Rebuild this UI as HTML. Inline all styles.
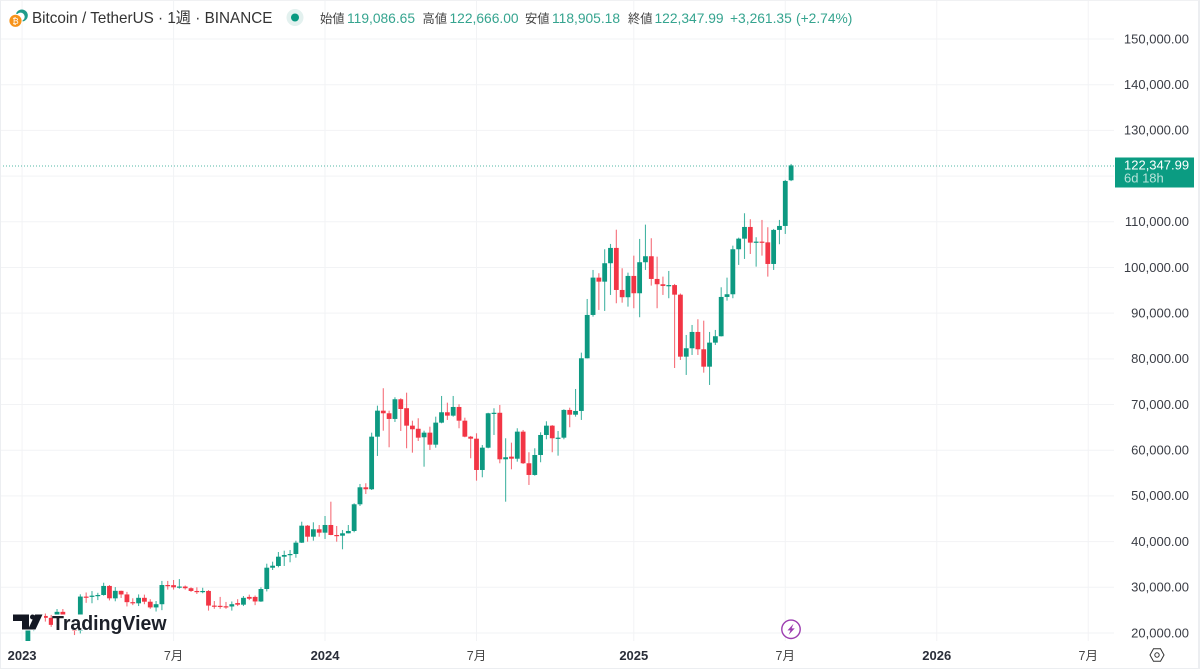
<!DOCTYPE html>
<html lang="ja">
<head>
<meta charset="utf-8">
<title>Bitcoin / TetherUS weekly chart</title>
<style>
  html, body { margin: 0; padding: 0; background: #fff; }
  #frame { position: relative; width: 1200px; height: 669px; overflow: hidden; background: #fff;
    font-family: "Liberation Sans", "Noto Sans CJK JP", sans-serif; }
  #chart { position: absolute; left: 0; top: 0; }
  #edge { position: absolute; left: 0; top: 0; width: 1197px; height: 667px; border-left: 1px solid #eceef1; border-top: 1px solid #f0f1f3; border-right: 2px solid #eceef1; border-bottom: 1px solid #eceef1; box-sizing: content-box; pointer-events: none; }
  .h { position: absolute; top: 10.5px; line-height: 16px; white-space: nowrap; }
  .title { left: 32px; font-size: 15.25px; color: #333; }
  .lab { font-size: 12.3px; color: #444; }
  .val { font-size: 13.8px; color: #35a48f; }
</style>
</head>
<body>
<div id="frame">
  <svg id="chart" width="1200" height="669" viewBox="0 0 1200 669" xmlns="http://www.w3.org/2000/svg">
    <defs>
      <clipPath id="plot-clip"><rect x="0" y="0" width="1114" height="641"></rect></clipPath>
      <filter id="soften" x="-5%" y="-5%" width="110%" height="110%"><feGaussianBlur stdDeviation="0.3"></feGaussianBlur></filter>
    </defs>
    <g id="grid"></g>
    <line x1="0" x2="1115" y1="166" y2="166" stroke="#089981" stroke-width="1" stroke-dasharray="1 2" opacity="0.7"></line>
    <g clip-path="url(#plot-clip)">
      <g id="candles" filter="url(#soften)"></g>
    </g>
    <g>
      <rect x="12" y="612" width="32" height="18.5" fill="#fff"></rect>
      <rect x="53" y="614.5" width="115" height="16" fill="#fff"></rect>
      <path d="M13 614.5h16v15h-7v-8.5H13z M35 614.5h7.5l-7 15h-7.5z" fill="#131722"></path>
      <circle cx="32.5" cy="617" r="2.5" fill="#131722"></circle>
      <text x="52" y="630" font-size="20.6" font-weight="700" fill="#1c2029" textLength="114.5" lengthAdjust="spacingAndGlyphs" font-family="Liberation Sans, sans-serif">TradingView</text>
    </g>
    <g id="y-axis"></g>
    <g id="x-axis"></g>

    <g>
      <rect x="1115" y="157.5" width="79" height="30" fill="#0b9c82"></rect>
      <text x="1124" y="169.5" font-size="13" fill="#fff" font-family="Liberation Sans, sans-serif">122,347.99</text>
      <text x="1124" y="182.5" font-size="13" fill="#b6e3da" font-family="Liberation Sans, sans-serif">6d 18h</text>
    </g>

    <g>
      <circle cx="21.8" cy="15.5" r="6" fill="#1f9c8b"></circle>
      <circle cx="20.5" cy="16.8" r="4.2" fill="#fff"></circle>
      <circle cx="15.5" cy="20.8" r="6.6" fill="#f7931a" stroke="#fff" stroke-width="1"></circle>
      <text x="15.5" y="24" font-size="8.5" fill="#fff" text-anchor="middle" font-family="DejaVu Sans, sans-serif">₿</text>
    </g>
    <circle cx="295" cy="17.5" r="8.5" fill="#e3f1ef"></circle>
    <circle cx="295" cy="17.5" r="4" fill="#089981"></circle>

    <g>
      <circle cx="791" cy="629.3" r="9.2" fill="#fff" stroke="#9c3db0" stroke-width="1.4"></circle>
      <path d="M793.5 623.8l-6 6.6h3l-1.8 4.4 6-6.4h-3z" fill="#9c3db0"></path>
    </g>

    <g>
      <path d="M1150 655l3.5-6.2h7l3.5 6.2-3.5 6.2h-7z" fill="none" stroke="#333" stroke-width="1"></path>
      <circle cx="1157" cy="655" r="2.2" fill="none" stroke="#333" stroke-width="1"></circle>
    </g>
  </svg>

  <span class="h title">Bitcoin / TetherUS · 1週 · BINANCE</span>
  <span class="h lab" style="left:320px">始値</span>
  <span class="h val" style="left:347px">119,086.65</span>
  <span class="h lab" style="left:422.5px">高値</span>
  <span class="h val" style="left:449.5px">122,666.00</span>
  <span class="h lab" style="left:525px">安値</span>
  <span class="h val" style="left:552px">118,905.18</span>
  <span class="h lab" style="left:628px">終値</span>
  <span class="h val" style="left:654.5px">122,347.99</span>
  <span class="h val" style="left:730px">+3,261.35</span>
  <span class="h val" style="left:796px">(+2.74%)</span>
  <div id="edge"></div>
</div>

<script>
// Weekly OHLC, in thousands of USDT. Index 0 is the week of 2023-01-09.
const opens = [17.13,20.87,22.71,23.73,23.32,21.78,24.63,23.17,22.43,20.47,27.97,27.96,28.17,28.32,30.30,27.59,29.23,28.44,26.75,26.50,27.70,26.85,25.60,26.30,30.50,30.47,30.00,30.17,29.80,29.20,29.04,29.20,26.00,25.95,25.85,25.80,26.55,26.20,27.90,27.90,26.90,29.63,34.29,34.67,36.70,37.07,37.29,39.77,43.49,41.08,42.70,41.96,43.64,41.45,41.30,41.82,42.33,48.17,51.89,51.46,62.97,68.66,68.09,66.85,71.16,69.20,65.38,64.70,62.84,63.85,61.22,66.04,68.31,67.57,69.47,66.47,62.97,62.53,55.68,60.56,68.09,68.20,58.02,58.60,58.15,64.07,57.15,54.59,58.96,63.34,65.38,62.62,62.75,68.82,67.78,68.60,80.13,89.61,97.78,96.90,100.93,104.28,95.08,93.49,98.15,94.36,101.15,102.46,97.49,96.33,95.96,96.15,94.05,80.48,82.32,85.89,82.10,78.29,83.55,84.95,93.55,94.14,103.99,106.31,108.87,105.44,105.66,105.50,100.77,108.22,109.09,119.086];
const highs = [21.26,23.37,23.82,24.26,23.96,25.25,25.25,23.88,22.60,28.47,28.87,29.18,28.80,31.00,30.50,30.04,29.27,29.00,27.60,28.45,28.40,27.40,27.00,31.40,31.40,31.60,31.80,30.40,30.00,30.00,29.90,29.40,27.00,27.90,26.80,26.90,27.40,28.10,28.40,28.20,30.00,35.17,35.61,37.73,38.02,38.17,40.20,44.36,43.64,44.23,43.64,45.61,48.74,43.42,42.55,43.64,48.39,52.62,52.77,63.85,69.76,73.57,68.66,71.60,71.38,72.60,66.47,67.00,64.28,65.16,67.35,71.88,70.41,71.88,70.06,67.13,63.13,63.71,61.15,68.20,69.19,69.91,62.62,61.66,64.81,64.44,59.56,60.43,63.93,66.34,65.50,64.22,68.97,69.32,73.41,81.36,93.11,99.46,98.74,103.99,105.15,108.27,99.83,98.87,102.59,106.25,109.38,106.40,102.37,98.00,99.24,96.40,94.30,85.23,87.42,88.67,88.36,85.89,86.33,95.67,97.78,104.78,106.53,111.87,110.56,106.62,110.41,108.81,108.44,110.41,119.16,122.666];
const lows = [17.08,20.41,22.29,22.50,21.35,21.35,22.75,21.97,19.55,19.90,26.60,26.51,27.20,28.17,27.13,26.94,27.67,25.81,26.10,25.90,26.30,25.30,24.70,25.00,29.50,29.50,29.70,29.50,29.00,28.55,28.70,24.90,25.30,25.30,25.30,24.90,25.90,25.90,27.20,26.10,26.80,29.10,33.79,34.38,34.67,35.48,36.48,39.70,39.99,40.20,41.08,40.58,41.40,39.99,38.32,41.80,42.04,47.80,50.43,51.30,58.75,64.28,60.65,66.19,64.22,60.43,59.47,62.03,56.40,60.06,60.56,65.90,66.63,67.35,64.81,62.84,58.24,53.34,54.08,60.43,63.34,57.15,48.74,55.83,57.50,57.00,52.40,54.43,57.37,62.40,59.56,58.81,62.40,65.03,67.35,66.63,80.10,89.24,90.71,90.49,93.99,92.17,92.30,91.43,91.08,89.11,99.46,96.03,91.08,93.99,93.27,78.00,79.76,76.48,80.85,80.85,76.98,74.29,83.04,84.90,92.74,93.27,100.56,101.87,102.96,100.18,102.59,98.00,99.46,105.09,107.34,118.905];
const closes = [20.87,22.71,23.73,23.32,21.78,24.63,23.17,22.43,20.47,27.97,27.96,28.17,28.32,30.30,27.59,29.23,28.44,26.75,26.50,27.70,26.85,25.60,26.30,30.50,30.47,30.00,30.17,29.80,29.20,29.04,29.20,26.00,25.80,25.80,25.80,26.30,26.20,27.70,27.50,26.90,29.63,34.29,34.73,36.70,37.07,37.29,39.77,43.49,41.08,42.70,41.96,43.64,41.45,41.30,41.82,42.33,48.17,51.89,51.46,62.97,68.66,68.09,66.85,71.16,69.03,65.38,64.59,62.75,63.85,61.22,66.04,68.31,67.57,69.47,66.47,62.97,62.53,55.68,60.56,68.09,68.20,58.02,58.46,58.15,64.07,57.15,54.59,58.96,63.34,65.38,62.62,62.75,68.82,67.78,68.60,80.13,89.61,97.78,96.90,100.93,104.28,95.08,93.49,98.15,94.36,101.15,102.46,97.49,96.33,95.96,96.15,94.05,80.48,82.32,85.89,82.10,78.29,83.55,84.95,93.55,94.14,103.99,106.31,108.87,105.44,105.66,105.50,100.77,108.22,109.09,118.94,122.348];

// Axis data
const priceTicks = [20000,30000,40000,50000,60000,70000,80000,90000,100000,110000,120000,130000,140000,150000];
const priceLabels = ["20,000.00","30,000.00","40,000.00","50,000.00","60,000.00","70,000.00","80,000.00","90,000.00","100,000.00","110,000.00","","130,000.00","140,000.00","150,000.00"];
const timeTickWeeks = [-1,25,51,77,104,130,156,182];
const timeTickLabels = ["2023","7月","2024","7月","2025","7月","2026","7月"];
const timeTickMajor = [true,false,true,false,true,false,true,false];

const SVG_NS = "http://www.w3.org/2000/svg";
function xScale(week) { return 27.9 + 5.826 * week; }
function yScale(priceK) { return 633 - (priceK - 20) * 4.569; }

const gridGroup = document.getElementById("grid");
const yAxisGroup = document.getElementById("y-axis");
const xAxisGroup = document.getElementById("x-axis");
const candleGroup = document.getElementById("candles");

priceTicks.forEach(function (tick, k) {
  const y = yScale(tick / 1000);
  const line = document.createElementNS(SVG_NS, "line");
  
  
  line.setAttribute("x1", 0);
  line.setAttribute("x2", 1114);
  line.setAttribute("y1", y);
  line.setAttribute("y2", y);
  line.setAttribute("stroke", "#f2f3f5");
  gridGroup.appendChild(line);
  if (priceLabels[k]) {
    const label = document.createElementNS(SVG_NS, "text");
    
    
    label.setAttribute("x", 1189);
    label.setAttribute("y", y + 4.3);
    label.setAttribute("text-anchor", "end");
    label.setAttribute("font-size", "13");
    label.setAttribute("fill", "#3a3d45");
    label.setAttribute("font-family", "Liberation Sans, sans-serif");
    label.textContent = priceLabels[k];
    yAxisGroup.appendChild(label);
  }
});

timeTickWeeks.forEach(function (week, k) {
  const x = xScale(week);
  const line = document.createElementNS(SVG_NS, "line");
  
  
  line.setAttribute("x1", x);
  line.setAttribute("x2", x);
  line.setAttribute("y1", 0);
  line.setAttribute("y2", 641);
  line.setAttribute("stroke", "#f2f3f5");
  gridGroup.appendChild(line);
  const label = document.createElementNS(SVG_NS, "text");
  
  
  label.setAttribute("x", x);
  label.setAttribute("y", 660);
  label.setAttribute("text-anchor", "middle");
  label.setAttribute("font-size", timeTickMajor[k] ? "13" : "12.5");
  label.setAttribute("font-weight", timeTickMajor[k] ? "700" : "400");
  label.setAttribute("fill", timeTickMajor[k] ? "#2a2e39" : "#444");
  label.setAttribute("font-family", "Liberation Sans, Noto Sans CJK JP, sans-serif");
  label.textContent = timeTickLabels[k];
  xAxisGroup.appendChild(label);
});

opens.forEach(function (open, i) {
  const close = closes[i];
  const up = close >= open;
  const color = up ? "#089981" : "#f23645";
  const x = xScale(i);
  const wick = document.createElementNS(SVG_NS, "line");
  
  
  wick.setAttribute("x1", x);
  wick.setAttribute("x2", x);
  wick.setAttribute("y1", yScale(highs[i]));
  wick.setAttribute("y2", yScale(lows[i]));
  wick.setAttribute("stroke", color);
  wick.setAttribute("stroke-width", "1.1");
  wick.setAttribute("opacity", "0.72");
  candleGroup.appendChild(wick);
  const top = yScale(Math.max(open, close));
  const bottom = yScale(Math.min(open, close));
  const body = document.createElementNS(SVG_NS, "rect");
  
  
  body.setAttribute("x", x - 2.4);
  body.setAttribute("width", 4.8);
  body.setAttribute("y", top);
  body.setAttribute("height", Math.max(bottom - top, 1.2));
  body.setAttribute("fill", color);
  candleGroup.appendChild(body);
});
</script>
</body>
</html>
